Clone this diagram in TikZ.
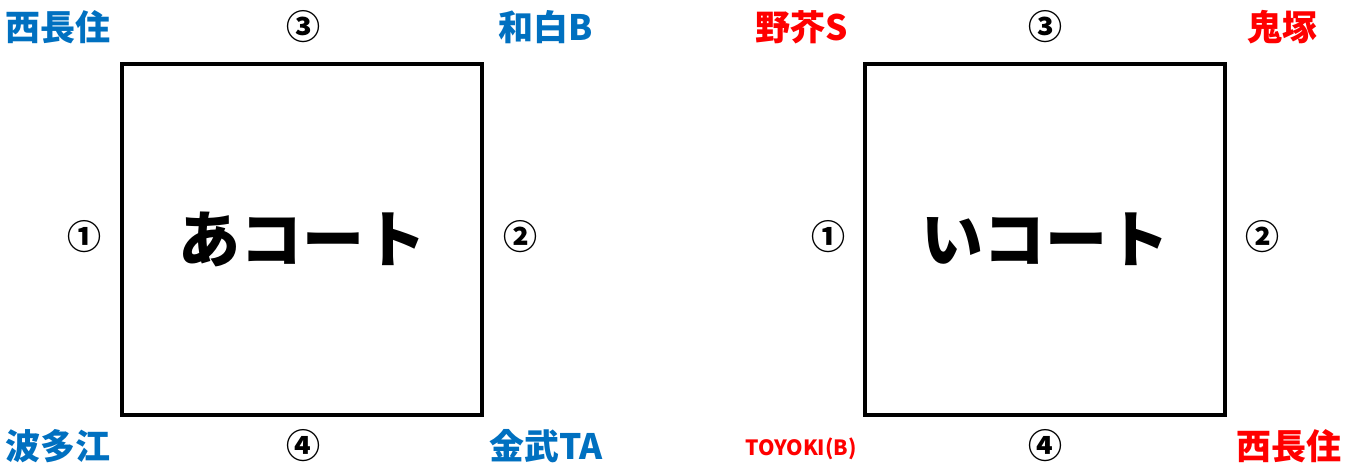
\documentclass[tikz,border=0pt]{standalone}
\usepackage{fontspec}
\setmainfont{Noto Sans CJK JP}
\definecolor{teamblue}{RGB}{0,112,192}
\definecolor{teamred}{RGB}{255,0,0}
\begin{document}
\begin{tikzpicture}[x=0.5pt,y=-0.5pt,
    team/.style={font=\fontsize{17.5}{17.5}\selectfont\bfseries},
    num/.style={font=\fontsize{17}{17}\selectfont\bfseries}]
    \useasboundingbox (0,0) rectangle (1355,466);
    \begin{scope}[every node/.style={draw,line width=2pt,minimum width=180pt,minimum height=175.5pt,font=\fontsize{31}{31}\selectfont\bfseries}]
        \node (A) at (302,239.5) {あコート};
        \node (I) at (1045,239.5) {いコート};
    \end{scope}
    % あコート
    \begin{scope}[every node/.style={team,text=teamblue}]
        \node (A3) at (58,27) {西長住};
        \node (A4) at (546,27) {和白B};
        \node (A1) at (58,446) {波多江};
        \node (A2) at (546,446) {金武TA};
    \end{scope}
    \node[num] (An3) at (303,27) {③};
    \node[num] (An1) at (85,237) {①};
    \node[num] (An2) at (520,237) {②};
    \node[num] (An4) at (303,446) {④};
    % いコート
    \begin{scope}[every node/.style={team,text=teamred}]
        \node (I3) at (802,27) {野芥S};
        \node (I4) at (1282,27) {鬼塚};
        \node[font=\fontsize{10.5}{10.5}\selectfont\bfseries] (I1) at (801,449) {TOYOKI(B)};
        \node (I2) at (1289,446) {西長住};
    \end{scope}
    \node[num] (In3) at (1045,27) {③};
    \node[num] (In1) at (828,237) {①};
    \node[num] (In2) at (1262,237) {②};
    \node[num] (In4) at (1045,446) {④};
\end{tikzpicture}
\end{document}
